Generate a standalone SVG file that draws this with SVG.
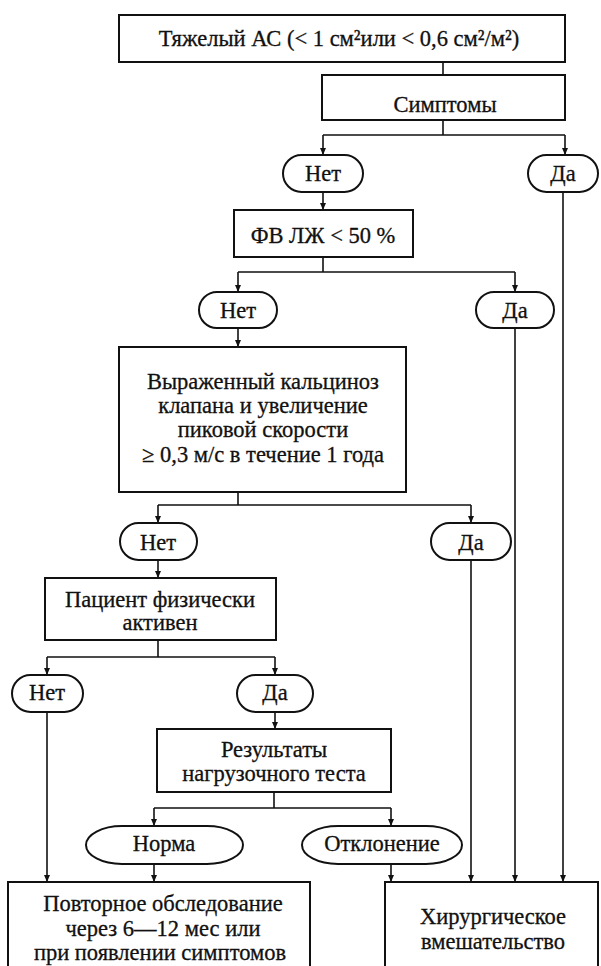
<svg xmlns="http://www.w3.org/2000/svg" width="601" height="966" viewBox="0 0 601 966">
<style>
.b{fill:#fff;stroke:#111;stroke-width:2}
.t{font-family:'Liberation Serif','Times New Roman','Tinos','DejaVu Serif','Noto Serif',Times,serif;font-size:22.5px;fill:#111;text-anchor:middle;stroke:#111;stroke-width:0.3}
.c{fill:none;stroke:#111;stroke-width:1.6}
</style>
<defs>
<marker id="a" markerWidth="8" markerHeight="8" refX="7" refY="4" orient="auto" markerUnits="userSpaceOnUse" viewBox="0 0 8 8">
<path d="M0,1 L7,4 L0,7 Z" fill="#111"/>
</marker>
</defs>
<rect width="601" height="966" fill="#fff"/>
<g id="connectors">
<path class="c" d="M443,62 V75"/>
<path class="c" d="M443,120 V135 M323,135 H565"/>
<path class="c" d="M323,135 V155" marker-end="url(#a)"/>
<path class="c" d="M565,135 V155" marker-end="url(#a)"/>
<path class="c" d="M323,192 V210" marker-end="url(#a)"/>
<path class="c" d="M323,257 V272 M238,272 H515"/>
<path class="c" d="M238,272 V292" marker-end="url(#a)"/>
<path class="c" d="M515,272 V292" marker-end="url(#a)"/>
<path class="c" d="M238,328 V347" marker-end="url(#a)"/>
<path class="c" d="M238,492 V505 M158,505 H471"/>
<path class="c" d="M158,505 V523" marker-end="url(#a)"/>
<path class="c" d="M471,505 V523" marker-end="url(#a)"/>
<path class="c" d="M158,560 V578" marker-end="url(#a)"/>
<path class="c" d="M158,640 V657 M47,657 H275"/>
<path class="c" d="M47,657 V675" marker-end="url(#a)"/>
<path class="c" d="M275,657 V675" marker-end="url(#a)"/>
<path class="c" d="M47,712 V882" marker-end="url(#a)"/>
<path class="c" d="M275,712 V729" marker-end="url(#a)"/>
<path class="c" d="M274,792 V808 M154,808 H391"/>
<path class="c" d="M154,808 V826" marker-end="url(#a)"/>
<path class="c" d="M391,808 V826" marker-end="url(#a)"/>
<path class="c" d="M154,864 V882" marker-end="url(#a)"/>
<path class="c" d="M391,864 V882" marker-end="url(#a)"/>
<path class="c" d="M471,560 V882" marker-end="url(#a)"/>
<path class="c" d="M515,328 V882" marker-end="url(#a)"/>
<path class="c" d="M563,192 V882" marker-end="url(#a)"/>
</g>
<g id="severe-as">
<rect class="b" x="119" y="15" width="446" height="47"/>
<text class="t" x="339" y="46">Тяжелый АС (&lt; 1 см²или &lt; 0,6 см²/м²)</text>
</g>
<g id="symptoms">
<rect class="b" x="322" y="75" width="243" height="45"/>
<text class="t" x="445" y="112">Симптомы</text>
</g>
<g id="no1">
<rect class="b" x="283" y="155" width="80" height="37" rx="18.5"/>
<text class="t" x="323" y="181">Нет</text>
</g>
<g id="yes1">
<rect class="b" x="528" y="155" width="70" height="37" rx="18.5"/>
<text class="t" x="563" y="181">Да</text>
</g>
<g id="lvef">
<rect class="b" x="234" y="210" width="179" height="47"/>
<text class="t" x="323" y="243">ФВ ЛЖ &lt; 50 %</text>
</g>
<g id="no2">
<rect class="b" x="199" y="292" width="78" height="36" rx="18"/>
<text class="t" x="238" y="318">Нет</text>
</g>
<g id="yes2">
<rect class="b" x="476" y="292" width="78" height="36" rx="18"/>
<text class="t" x="515" y="318">Да</text>
</g>
<g id="calcinosis">
<rect class="b" x="119" y="347" width="287" height="145"/>
<text class="t" x="263" y="389">Выраженный кальциноз</text>
<text class="t" x="263" y="413">клапана и увеличение</text>
<text class="t" x="263" y="437">пиковой скорости</text>
<text class="t" x="263" y="462">≥ 0,3 м/с в течение 1 года</text>
</g>
<g id="no3">
<rect class="b" x="120" y="523" width="77" height="37" rx="18.5"/>
<text class="t" x="158" y="550">Нет</text>
</g>
<g id="yes3">
<rect class="b" x="431" y="523" width="80" height="37" rx="18.5"/>
<text class="t" x="471" y="550">Да</text>
</g>
<g id="active">
<rect class="b" x="45" y="578" width="231" height="62"/>
<text class="t" x="160" y="607">Пациент физически</text>
<text class="t" x="160" y="630">активен</text>
</g>
<g id="no4">
<rect class="b" x="12" y="675" width="71" height="37" rx="18.5"/>
<text class="t" x="47" y="700">Нет</text>
</g>
<g id="yes4">
<rect class="b" x="237" y="675" width="76" height="37" rx="18.5"/>
<text class="t" x="275" y="700">Да</text>
</g>
<g id="stress-test">
<rect class="b" x="157" y="729" width="234" height="63"/>
<text class="t" x="274" y="757">Результаты</text>
<text class="t" x="274" y="781">нагрузочного теста</text>
</g>
<g id="normal">
<rect class="b" x="86" y="826" width="157" height="38" rx="36" ry="19"/>
<text class="t" x="164" y="851">Норма</text>
</g>
<g id="abnormal">
<rect class="b" x="302" y="826" width="160" height="38" rx="36" ry="19"/>
<text class="t" x="382" y="851">Отклонение</text>
</g>
<g id="follow-up">
<rect class="b" x="8" y="882" width="302" height="90"/>
<text class="t" x="163" y="911">Повторное обследование</text>
<text class="t" x="163" y="936">через 6—12 мес или</text>
<text class="t" x="160" y="960">при появлении симптомов</text>
</g>
<g id="surgery">
<rect class="b" x="385" y="882" width="213" height="90"/>
<text class="t" x="493" y="924">Хирургическое</text>
<text class="t" x="493" y="949">вмешательство</text>
</g>
</svg>
